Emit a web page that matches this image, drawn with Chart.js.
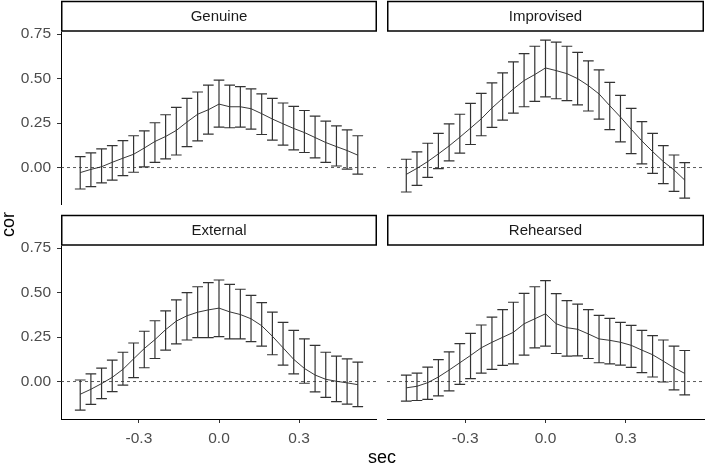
<!DOCTYPE html>
<html>
<head>
<meta charset="utf-8">
<script src="https://cdn.jsdelivr.net/npm/chart.js@4.4.1/dist/chart.umd.min.js"></script>
<style>
  body { margin: 0; background: #fff; }
  #wrap { position: relative; width: 707px; height: 466px; font-family: "Liberation Sans", Arial, sans-serif; }
  canvas { position: absolute; }
  .axtitle { position: absolute; font-size: 18px; color: #000; }
</style>
</head>
<body>
<div id="wrap">
  <canvas id="c1" width="377" height="205" style="left:0;top:0"></canvas>
  <canvas id="c2" width="320" height="205" style="left:387px;top:0"></canvas>
  <canvas id="c3" width="377" height="235" style="left:0;top:214px"></canvas>
  <canvas id="c4" width="320" height="235" style="left:387px;top:214px"></canvas>
  <div class="axtitle" style="left:-4px;top:214px;transform:rotate(-90deg);">cor</div>
  <div class="axtitle" style="left:368px;top:447px;">sec</div>
</div>
<script>
// lag in seconds (same for every panel)
const sec = [-0.52, -0.48, -0.44, -0.40, -0.36, -0.32, -0.28, -0.24, -0.20, -0.16, -0.12, -0.08, -0.04, 0,
             0.04, 0.08, 0.12, 0.16, 0.20, 0.24, 0.28, 0.32, 0.36, 0.40, 0.44, 0.48, 0.52];
const xTicks = [-0.3, 0, 0.3];
const yTicks = [0, 0.25, 0.5, 0.75];

// Genuine
const genuineCor = [-0.028, -0.01, 0.005, 0.03, 0.053, 0.075, 0.11, 0.147, 0.175, 0.209, 0.256, 0.30, 0.325, 0.357,
                    0.342, 0.342, 0.331, 0.303, 0.273, 0.246, 0.22, 0.197, 0.169, 0.141, 0.118, 0.096, 0.07];
const genuineLo = [-0.12, -0.107, -0.086, -0.07, -0.045, -0.026, 0.004, 0.03, 0.049, 0.071, 0.118, 0.15, 0.188, 0.227,
                   0.224, 0.227, 0.216, 0.186, 0.154, 0.126, 0.10, 0.085, 0.055, 0.03, 0.009, -0.008, -0.036];
const genuineHi = [0.062, 0.083, 0.105, 0.124, 0.152, 0.179, 0.207, 0.252, 0.297, 0.338, 0.389, 0.425, 0.464, 0.492,
                   0.464, 0.455, 0.442, 0.414, 0.389, 0.363, 0.344, 0.321, 0.289, 0.261, 0.235, 0.212, 0.179];

// Improvised
const improvisedCor = [-0.038, -0.004, 0.034, 0.077, 0.122, 0.171, 0.222, 0.274, 0.335, 0.389, 0.442, 0.489, 0.523, 0.56,
                       0.545, 0.528, 0.50, 0.461, 0.414, 0.348, 0.284, 0.216, 0.15, 0.09, 0.034, -0.013, -0.07];
const improvisedLo = [-0.137, -0.10, -0.055, -0.006, 0.038, 0.081, 0.13, 0.179, 0.226, 0.267, 0.306, 0.342, 0.372, 0.397,
                      0.387, 0.376, 0.352, 0.318, 0.273, 0.214, 0.145, 0.079, 0.021, -0.032, -0.09, -0.133, -0.171];
const improvisedHi = [0.047, 0.088, 0.137, 0.192, 0.246, 0.30, 0.361, 0.417, 0.476, 0.532, 0.594, 0.641, 0.682, 0.716,
                      0.705, 0.682, 0.647, 0.60, 0.549, 0.479, 0.406, 0.333, 0.259, 0.192, 0.124, 0.071, 0.028];

// External
const externalCor = [-0.071, -0.043, -0.011, 0.024, 0.069, 0.128, 0.186, 0.236, 0.292, 0.34, 0.37, 0.39, 0.403, 0.413,
                     0.392, 0.377, 0.353, 0.314, 0.255, 0.19, 0.125, 0.074, 0.037, 0.013, 0.002, -0.007, -0.017];
const externalLo = [-0.16, -0.128, -0.095, -0.056, -0.02, 0.022, 0.078, 0.13, 0.177, 0.212, 0.234, 0.247, 0.247, 0.253,
                    0.24, 0.24, 0.225, 0.199, 0.151, 0.093, 0.043, -0.009, -0.058, -0.089, -0.112, -0.126, -0.141];
const externalHi = [0.009, 0.043, 0.076, 0.121, 0.165, 0.217, 0.283, 0.342, 0.398, 0.459, 0.50, 0.533, 0.556, 0.571,
                    0.546, 0.519, 0.485, 0.444, 0.39, 0.333, 0.288, 0.24, 0.204, 0.165, 0.143, 0.128, 0.11];

// Rehearsed
const rehearsedCor = [-0.035, -0.026, -0.006, 0.026, 0.065, 0.106, 0.147, 0.19, 0.221, 0.249, 0.277, 0.325, 0.353, 0.381,
                      0.325, 0.303, 0.294, 0.268, 0.24, 0.232, 0.221, 0.204, 0.177, 0.151, 0.115, 0.078, 0.046];
const rehearsedLo = [-0.11, -0.106, -0.10, -0.08, -0.052, -0.015, 0.017, 0.048, 0.069, 0.091, 0.10, 0.149, 0.19, 0.199,
                     0.158, 0.143, 0.145, 0.13, 0.106, 0.10, 0.093, 0.08, 0.05, 0.026, -0.002, -0.046, -0.074];
const rehearsedHi = [0.037, 0.048, 0.082, 0.124, 0.167, 0.214, 0.271, 0.318, 0.362, 0.405, 0.446, 0.496, 0.533, 0.567,
                     0.494, 0.455, 0.435, 0.405, 0.372, 0.355, 0.333, 0.316, 0.288, 0.258, 0.234, 0.199, 0.175];

const FONT = '"Liberation Sans", Arial, sans-serif';

// strip label, zero line and error bars
const facetPlugin = {
  id: 'facet',
  beforeDatasetsDraw(chart) {
    const ctx = chart.ctx, a = chart.chartArea;
    const y0 = chart.scales.y.getPixelForValue(0);
    ctx.save();
    ctx.strokeStyle = '#333';
    ctx.lineWidth = 0.8;
    ctx.setLineDash([3, 3]);
    ctx.beginPath();
    ctx.moveTo(a.left, y0);
    ctx.lineTo(a.right, y0);
    ctx.stroke();
    ctx.restore();
  },
  afterDatasetsDraw(chart, args, opts) {
    const ctx = chart.ctx, xs = chart.scales.x, ys = chart.scales.y;
    ctx.save();
    ctx.strokeStyle = '#333';
    ctx.lineWidth = 1.2;
    ctx.beginPath();
    sec.forEach((s, i) => {
      const x = xs.getPixelForValue(s);
      const xl = xs.getPixelForValue(s - 0.02), xr = xs.getPixelForValue(s + 0.02);
      const yl = ys.getPixelForValue(opts.lo[i]), yh = ys.getPixelForValue(opts.hi[i]);
      ctx.moveTo(x, yl); ctx.lineTo(x, yh);
      ctx.moveTo(xl, yl); ctx.lineTo(xr, yl);
      ctx.moveTo(xl, yh); ctx.lineTo(xr, yh);
    });
    ctx.stroke();
    ctx.restore();
  },
  afterDraw(chart, args, opts) {
    const ctx = chart.ctx, a = chart.chartArea;
    ctx.save();
    ctx.fillStyle = '#fff';
    ctx.strokeStyle = '#000';
    ctx.lineWidth = 1.5;
    ctx.fillRect(a.left, 1.5, a.right - a.left, a.top - 2.5);
    ctx.strokeRect(a.left + 0.75, 1.5, a.right - a.left - 1.5, a.top - 2.5);
    ctx.fillStyle = '#1a1a1a';
    ctx.font = '15px ' + FONT;
    ctx.textAlign = 'center';
    ctx.textBaseline = 'middle';
    ctx.fillText(opts.label, (a.left + a.right) / 2, (a.top + 1.5) / 2 + 0.5);
    ctx.restore();
  }
};

function makePanel(id, label, cor, lo, hi, leftCol, bottomRow) {
  new Chart(document.getElementById(id), {
    type: 'line',
    data: {
      datasets: [{
        data: sec.map((s, i) => ({ x: s, y: cor[i] })),
        borderColor: '#222',
        borderWidth: 0.9,
        pointRadius: 0,
        tension: 0,
        fill: false
      }]
    },
    options: {
      responsive: false,
      animation: false,
      layout: { padding: { top: 32, left: 0, right: leftCol ? 0 : 3, bottom: 0 } },
      plugins: {
        legend: { display: false },
        tooltip: { enabled: false },
        facet: { label: label, lo: lo, hi: hi }
      },
      scales: {
        x: {
          type: 'linear',
          min: -0.592,
          max: 0.592,
          display: bottomRow,
          afterBuildTicks: s => { s.ticks = xTicks.map(v => ({ value: v })); },
          afterFit: s => {
            if (bottomRow) { s.height = 30; s.paddingLeft = 0; s.paddingRight = 0; }
          },
          grid: { drawOnChartArea: false, tickLength: 4, color: '#333' },
          border: { color: '#000', width: 1 },
          ticks: {
            padding: 6,
            color: '#4d4d4d',
            font: { family: FONT, size: 15.5 },
            callback: v => v.toFixed(1)
          }
        },
        y: {
          min: -0.21,
          max: 0.762,
          display: leftCol,
          afterBuildTicks: s => { s.ticks = yTicks.map(v => ({ value: v })); },
          afterFit: s => {
            if (leftCol) { s.width = 61; s.paddingTop = 0; s.paddingBottom = 0; }
          },
          grid: { drawOnChartArea: false, tickLength: 4, color: '#333' },
          border: { color: '#000', width: 1 },
          ticks: {
            padding: 6,
            color: '#4d4d4d',
            font: { family: FONT, size: 15.5 },
            callback: v => v.toFixed(2)
          }
        }
      }
    },
    plugins: [facetPlugin]
  });
}

makePanel('c1', 'Genuine', genuineCor, genuineLo, genuineHi, true, false);
makePanel('c2', 'Improvised', improvisedCor, improvisedLo, improvisedHi, false, false);
makePanel('c3', 'External', externalCor, externalLo, externalHi, true, true);
makePanel('c4', 'Rehearsed', rehearsedCor, rehearsedLo, rehearsedHi, false, true);
</script>
</body>
</html>
